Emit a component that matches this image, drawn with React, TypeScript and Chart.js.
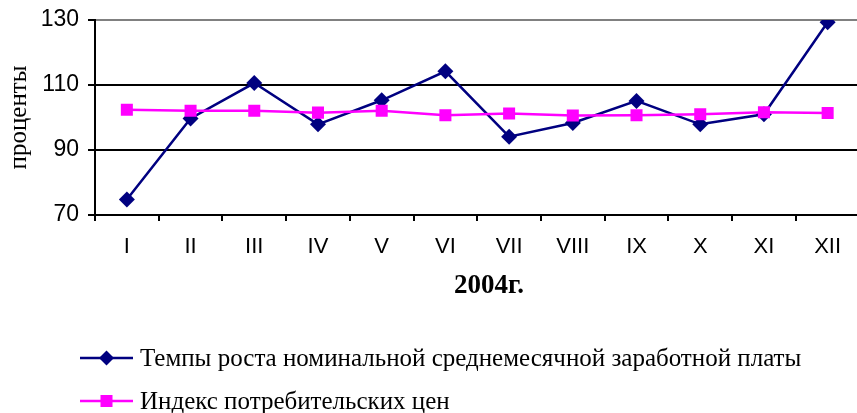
import React, { useEffect, useRef } from "react";
import { Chart, registerables } from "chart.js";

Chart.register(...registerables);

const months = ["I", "II", "III", "IV", "V", "VI", "VII", "VIII", "IX", "X", "XI", "XII"];
const wageGrowth = [74.8, 99.7, 110.6, 97.9, 105.3, 114.2, 94.1, 98.3, 105.1, 97.9, 101.0, 129.3];
const cpi = [102.4, 102.1, 102.1, 101.5, 102.1, 100.7, 101.2, 100.6, 100.7, 101.0, 101.6, 101.4];
const yTicks = [70, 90, 110, 130];
const wageLabel = "Темпы роста номинальной среднемесячной заработной платы";
const cpiLabel = "Индекс потребительских цен";
const xTitle = "2004г.";
const yTitle = "проценты";

const NAVY = "#000080";
const MAGENTA = "#FF00FF";

const overlayPlugin = {
  id: "overlay",
  afterDraw(chart: any) {
    const ctx = chart.ctx as CanvasRenderingContext2D;
    ctx.save();
    // x title
    ctx.fillStyle = "#000";
    ctx.font = 'bold 27px "Liberation Serif"';
    ctx.textAlign = "center";
    ctx.textBaseline = "alphabetic";
    ctx.fillText(xTitle, 489, 293);
    // legend
    const items = chart.data.datasets.map((d: any, i: number) => ({
      label: d.label,
      color: d.borderColor,
      style: d.pointStyle,
      y: i === 0 ? 358 : 401,
    }));
    items.forEach((it: any) => {
      ctx.strokeStyle = it.color;
      ctx.lineWidth = 2.5;
      ctx.beginPath();
      ctx.moveTo(80, it.y);
      ctx.lineTo(133, it.y);
      ctx.stroke();
      ctx.fillStyle = it.color;
      const cx = 106.5;
      if (it.style === "rectRot") {
        const r = 7.5;
        ctx.beginPath();
        ctx.moveTo(cx, it.y - r);
        ctx.lineTo(cx + r, it.y);
        ctx.lineTo(cx, it.y + r);
        ctx.lineTo(cx - r, it.y);
        ctx.closePath();
        ctx.fill();
      } else {
        const s = 6;
        ctx.fillRect(cx - s, it.y - s, 2 * s, 2 * s);
      }
      ctx.fillStyle = "#000";
      ctx.font = '25px "Liberation Serif"';
      ctx.textAlign = "left";
      ctx.textBaseline = "alphabetic";
      ctx.fillText(it.label, 140, it.y + 8);
    });
    ctx.restore();
  },
};

export default function App() {
  const ref = useRef<HTMLCanvasElement | null>(null);
  useEffect(() => {
    document.body.style.margin = "0";
    document.body.style.overflow = "hidden";
    if (!ref.current) return;
    const chart = new Chart(ref.current, {
      type: "line",
      data: {
        labels: months,
        datasets: [
          {
            label: wageLabel,
            data: wageGrowth,
            borderColor: NAVY,
            backgroundColor: NAVY,
            borderWidth: 2.5,
            pointStyle: "rectRot",
            pointRadius: 8,
            pointHoverRadius: 8,
            pointBorderWidth: 0,
            tension: 0,
            order: 2,
          },
          {
            label: cpiLabel,
            data: cpi,
            borderColor: MAGENTA,
            backgroundColor: MAGENTA,
            borderWidth: 2.5,
            pointStyle: "rect",
            pointRadius: 8.5,
            pointHoverRadius: 8.5,
            pointBorderWidth: 0,
            tension: 0,
            order: 1,
          },
        ],
      },
      options: {
        animation: false,
        responsive: true,
        maintainAspectRatio: false,
        layout: { padding: { top: 20, right: 0, bottom: 0, left: 0 } },
        plugins: {
          legend: { display: false },
          tooltip: { enabled: false },
        },
        scales: {
          x: {
            offset: true,
            grid: {
              offset: true,
              drawOnChartArea: false,
              color: "#000",
              lineWidth: 2,
              tickLength: 6,
            },
            border: { color: "#000", width: 2 },
            ticks: {
              color: "#000",
              font: { family: '"Liberation Sans"', size: 22 },
              padding: 13,
              maxRotation: 0,
              autoSkip: false,
            },
            afterFit(scale: any) {
              scale.height = 198;
              scale.paddingLeft = 0;
              scale.paddingRight = 0;
            },
          },
          y: {
            min: 70,
            max: 130,
            afterBuildTicks(scale: any) {
              scale.ticks = yTicks.map((v) => ({ value: v }));
            },
            grid: {
              color: (c: any) => (c.tick && c.tick.value === 130 ? "#808080" : "#000"),
              tickColor: "#000",
              lineWidth: 2,
              tickLength: 7,
            },
            border: { color: "#000", width: 2 },
            ticks: {
              color: "#000",
              font: { family: '"Liberation Sans"', size: 23 },
              padding: 9,
            },
            title: {
              display: true,
              text: yTitle,
              color: "#000",
              font: { family: '"Liberation Serif"', size: 25 },
              padding: { top: 4, bottom: 0 },
            },
            afterFit(scale: any) {
              scale.width = 95;
              scale.paddingTop = 0;
              scale.paddingBottom = 0;
            },
          },
        },
      },
      plugins: [overlayPlugin],
    });
    return () => chart.destroy();
  }, []);
  return (
    <div style={{ width: 857, height: 413, overflow: "hidden", position: "relative" }}>
      <div style={{ width: 868, height: 413, position: "relative" }}>
        <canvas ref={ref} />
      </div>
    </div>
  );
}
